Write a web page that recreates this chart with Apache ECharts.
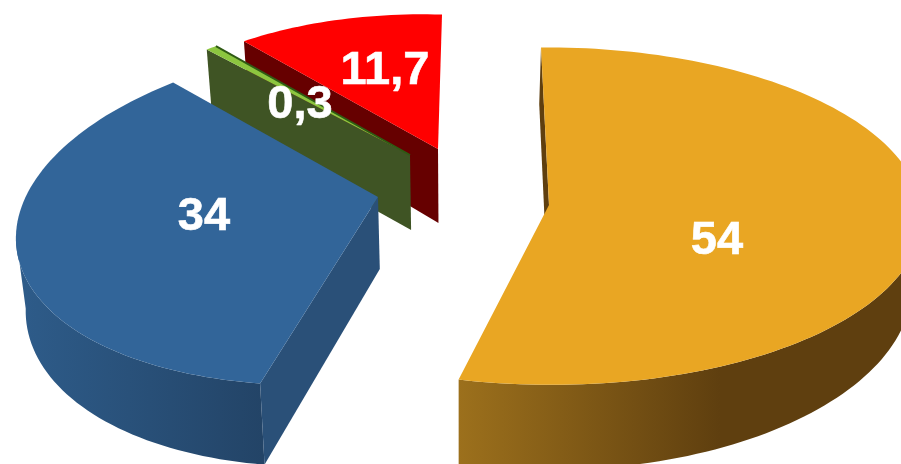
<!DOCTYPE html>
<html><head><meta charset="utf-8">
<style>html,body{margin:0;padding:0;background:#fff}#c{width:901px;height:464px}</style>
<script src="https://cdn.jsdelivr.net/npm/echarts@6/dist/echarts.min.js"></script>
</head><body><div id="c"></div>
<script>
const categories = ['A', 'B', 'C', 'D'];
const values = [54, 34, 0.3, 11.7];
const valueLabels = ['54', '34', '0,3', '11,7'];

const total = values.reduce((a, b) => a + b, 0);
const VANISH_X = 460, CONVERGE = 0.022;
const layout = [
  {cx:549,cy:205,R:372,Ry:168,k:.066,rot:-.9,shear:2.5,skew:0,bulge:0,minSweep:0,depth:68,dk:.2,z:40,top:'#E9A623',side:'#5F3F0F',
   arc:[[459,'#9C701C'],[720,'#5F3F0F'],[901,'#5F3F0F']],lx:717,ly:241},
  {cx:378,cy:197,R:344,Ry:175,k:.073,rot:4.2,shear:0,skew:24,bulge:.05,minSweep:0,depth:72,dk:.12,z:30,top:'#326599',side:'#2A5078',
   arc:[[16,'#2E5C8A'],[262,'#234467']],lx:204,ly:217},
  {cx:410,cy:155,R:325,Ry:153,k:.1,rot:1,shear:0,skew:0,bulge:0,minSweep:2.2,depth:75,dk:.1,z:20,top:'#8CC63F',side:'#3F5424',
   arc:[[207,'#3F5424'],[410,'#3F5424']],edge:'#2F5A14',lx:300,ly:105},
  {cx:438,cy:149,R:316,Ry:148,k:.1,rot:.8,shear:0,skew:-7,bulge:0,minSweep:0,depth:74,dk:.1,z:10,top:'#FF0000',side:'#660000',
   arc:[[245,'#660000'],[438,'#660000']],lx:385,ly:71}
];

function project(L, deg, r, lower) {
  const a = (deg + L.rot) * Math.PI / 180;
  const u = Math.sin(a) * r, v = -Math.cos(a) * r;
  const w = 1 - L.k * v;
  let x = L.cx + L.R * u / w + L.shear * v;
  let y = L.cy + L.Ry * v / w - L.skew * u / w;
  if (lower) {
    y += L.depth / (1 - L.dk * v);
    x -= (x - VANISH_X) * CONVERGE;
  }
  return [x, y];
}

function arcAngles(a0, a1) {
  const out = [];
  const n = Math.max(2, Math.ceil((a1 - a0) / 1.5));
  for (let i = 0; i <= n; i++) out.push({deg: a0 + (a1 - a0) * i / n, t: i / n});
  return out;
}
function rim(L, p, lower) {
  return project(L, p.deg, 1 + L.bulge * Math.sin(Math.PI * p.t), lower);
}
// Part of the rim whose outer wall faces the viewer: bounded by the rim's left and right extremes.
function visibleRim(L, angles, upper) {
  const faces = angles.some(p => Math.cos((p.deg + L.rot) * Math.PI / 180) < 0);
  if (!faces) return [];
  let lo = 0, hi = 0;
  upper.forEach((q, i) => { if (q[0] < upper[lo][0]) lo = i; if (q[0] > upper[hi][0]) hi = i; });
  const last = angles.length - 1;
  const from = Math.min(hi === last ? 0 : hi, lo === 0 ? 0 : hi === last ? 0 : hi);
  const to = lo === 0 ? last : lo;
  return angles.slice(from, to + 1);
}

function renderSlice(params, api) {
  const i = params.dataIndex, L = layout[i];
  let before = 0;
  for (let j = 0; j < i; j++) before += values[j];
  const a0 = before / total * 360;
  const a1 = a0 + Math.max(api.value(0) / total * 360, L.minSweep);
  const apex = project(L, 0, 0, false), apexLow = project(L, 0, 0, true);
  const angles = arcAngles(a0, a1);
  const upper = angles.map(p => rim(L, p, false));
  const front = visibleRim(L, angles, upper);
  const x0 = L.arc[0][0], x1 = L.arc[L.arc.length - 1][0];
  const grad = {type:'linear', x:x0, y:0, x2:x1, y2:0, global:true,
    colorStops:L.arc.map(s => ({offset:(s[0]-x0)/(x1-x0), color:s[1]}))};
  const kids = [];
  if (front.length > 1) {
    kids.push({type:'polygon', z2:L.z, shape:{points:front.map(p => rim(L, p, false))
      .concat(front.map(p => rim(L, p, true)).reverse())}, style:{fill:grad}});
  }
  kids.push({type:'polygon', z2:L.z+1, shape:{points:[apex, upper[0], rim(L, angles[0], true), apexLow]}, style:{fill:L.side}});
  kids.push({type:'polygon', z2:L.z+2, shape:{points:[apex].concat(upper)}, style:{fill:L.top}});
  if (L.edge) kids.push({type:'polyline', z2:L.z+3, shape:{points:[upper[upper.length-1], apex]},
    style:{fill:null, stroke:L.edge, lineWidth:2}});
  kids.push({type:'text', z2:100, x:L.lx, y:L.ly, style:{text:valueLabels[i], fill:'#fff', stroke:'#fff', lineWidth:.6,
    font:'bold 47px "Liberation Sans", Arial, sans-serif', align:'center', verticalAlign:'middle'}});
  return {type:'group', children:kids};
}

const chart = echarts.init(document.getElementById('c'));
chart.setOption({
  animation:false,
  backgroundColor:'#fff',
  series:[{type:'custom', coordinateSystem:'none', silent:true, clip:false,
    renderItem:renderSlice,
    data:values.map((v, i) => ({name:categories[i], value:[v]}))}]
});
</script></body></html>
